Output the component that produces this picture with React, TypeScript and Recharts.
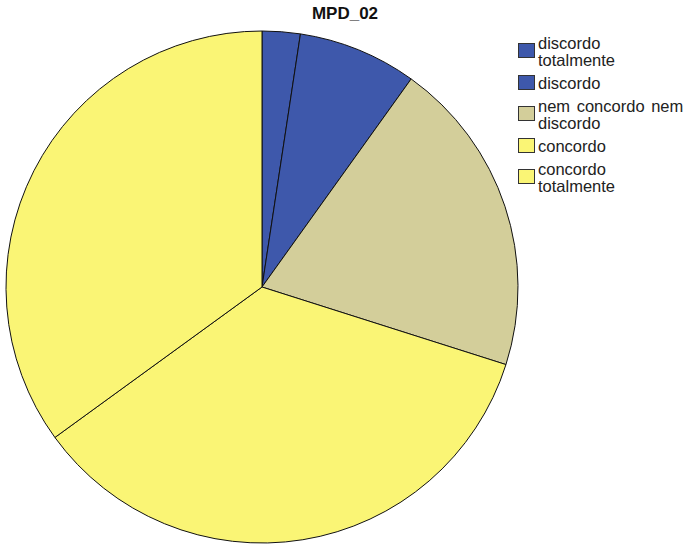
import React from 'react';
import { PieChart, Pie, Cell, Legend } from 'recharts';

const categories = [
  'discordo totalmente',
  'discordo',
  'nem concordo nem discordo',
  'concordo',
  'concordo totalmente',
];
const legendLines = [
  ['discordo', 'totalmente'],
  ['discordo'],
  ['nem concordo nem', 'discordo'],
  ['concordo'],
  ['concordo', 'totalmente'],
];
const percents = [2.4, 7.5, 20.0, 35.1, 35.0];
const colors = ['#3e58ab', '#3e58ab', '#d3ce9a', '#faf575', '#faf575'];

const data = categories.map((name, i) => ({ name, value: percents[i] }));

const renderLegend = () => (
  <div style={{ fontFamily: '"Liberation Sans", Arial, sans-serif', fontSize: 16.5, color: '#222' }}>
    {legendLines.map((lines, i) => (
      <div key={i} style={{ display: 'flex', alignItems: 'center', marginBottom: 6 }}>
        <div
          style={{
            width: 15,
            height: 13,
            background: colors[i],
            border: '1px solid #333',
            marginRight: 3,
            marginTop: -3,
            flexShrink: 0,
          }}
        />
        <div style={{ lineHeight: '17px', whiteSpace: 'nowrap', wordSpacing: 2 }}>
          {lines.map((l, j) => (
            <div key={j}>{l}</div>
          ))}
        </div>
      </div>
    ))}
  </div>
);

const App: React.FC = () => {
  return (
    <div style={{ position: 'fixed', left: 0, top: 0, background: '#fff' }}>
      <div
        style={{
          position: 'absolute',
          left: 0,
          top: 4,
          width: 690,
          textAlign: 'center',
          fontFamily: '"Liberation Sans", Arial, sans-serif',
          fontWeight: 'bold',
          fontSize: 17,
          color: '#111',
        }}
      >
        MPD_02
      </div>
      <PieChart width={686} height={545} margin={{ top: 0, right: 0, bottom: 0, left: 0 }}>
        <Pie
          data={data}
          dataKey="value"
          nameKey="name"
          cx={262}
          cy={287}
          outerRadius={256}
          startAngle={90}
          endAngle={-270}
          stroke="#111"
          strokeWidth={1}
          isAnimationActive={false}
          label={false}
          labelLine={false}
        >
          {data.map((d, i) => (
            <Cell key={d.name} fill={colors[i]} />
          ))}
        </Pie>
        <Legend
          layout="vertical"
          verticalAlign="top"
          align="right"
          content={renderLegend}
          wrapperStyle={{ position: 'absolute', left: 518, top: 35, width: 168 }}
        />
      </PieChart>
    </div>
  );
};

export default App;
